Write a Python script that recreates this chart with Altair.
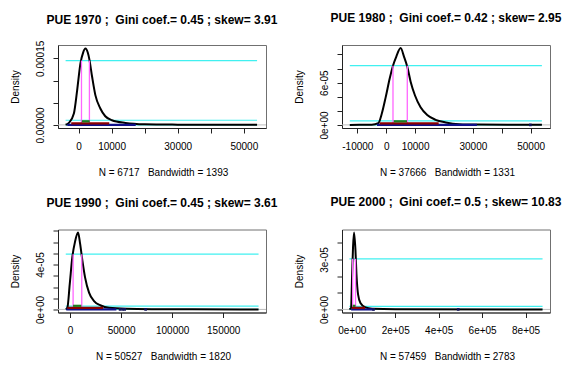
import altair as alt
import pandas as pd

FONT = "Liberation Sans"

# ---------------- data ----------------
years = ["1970", "1980", "1990", "2000"]
gini = ["0.45", "0.42", "0.45", "0.5"]
skew = ["3.91", "2.95", "3.61", "10.83"]
n_obs = ["6717", "37666", "50527", "57459"]
bandwidth = ["1393", "1331", "1820", "2783"]

# density curves (income, density)
curve_x_1970 = [-3900, -2900, -1400, -400, 600, 1400, 2100, 2800, 3300, 4100, 5100, 6600, 8100, 10100, 14200, 20000, 30000, 40000, 54000]
curve_y_1970 = [0.2e-6, 4.5e-6, 2.57e-5, 7.86e-5, 1.39e-4, 1.63e-4, 1.72e-4, 1.63e-4, 1.47e-4, 1.09e-4, 6.7e-5, 3.7e-5, 1.95e-5, 1.05e-5, 4.5e-6, 1.5e-6, 0.6e-6, 0.3e-6, 0.1e-6]

curve_x_1980 = [-12600, -5000, -2730, -1560, -170, 1210, 2350, 3500, 5000, 6160, 7300, 8480, 9970, 11900, 14200, 17100, 20600, 25200, 32000, 42000, 53900]
curve_y_1980 = [0.0, 0.2e-6, 2.4e-6, 1.54e-5, 3.94e-5, 6.58e-5, 8.4e-5, 9.7e-5, 1.09e-4, 9.7e-5, 8.26e-5, 6.1e-5, 4.17e-5, 2.5e-5, 1.4e-5, 7.2e-6, 3.5e-6, 1.0e-6, 0.4e-6, 0.2e-6, 0.1e-6]

curve_x_1990 = [-4200, -2650, -300, 2250, 4900, 7840, 9800, 12060, 14700, 18600, 23500, 30100, 38200, 55000, 80000, 120000, 184600]
curve_y_1990 = [0.1e-6, 1.4e-6, 2.25e-5, 4.68e-5, 6.05e-5, 6.86e-5, 5.89e-5, 4.38e-5, 2.86e-5, 1.5e-5, 7.5e-6, 3.5e-6, 1.4e-6, 0.5e-6, 0.2e-6, 0.1e-6, 0.0]

curve_x_2000 = [-10600, -3200, 1400, 6000, 10600, 17100, 21700, 29100, 40100, 63200, 93700, 200000, 878000]
curve_y_2000 = [0.0, 0.8e-6, 1.92e-5, 3.76e-5, 4.62e-5, 3.56e-5, 2.12e-5, 9.0e-6, 3.9e-6, 1.2e-6, 0.4e-6, 0.1e-6, 0.0]

# horizontal cyan reference levels and their x extent
cyan_levels = [[1.45e-4, 1.05e-5, 0.0], [8.4e-5, 5.8e-6, 0.0], [4.93e-5, 2.9e-6, 0.0], [3.04e-5, 1.8e-6, 0.0]]
cyan_from = [-3900, -12600, -4200, -10600]
cyan_to = [54000, 53900, 184600, 878000]

# magenta verticals (x positions, top = upper cyan level)
magenta_x = [[900, 3300], [2350, 7300], [3000, 11470], [4300, 17500]]

# horizontal range bars
green_range = [[1000, 3400], [2600, 7200], [2940, 11080], [4300, 17500]]
darkred_range = [[-2200, 9300], [-2250, 18170], [-2650, 32350], [0, 61000]]
navy_range = [[-3400, 17300], [-3180, 31400], [-3630, 45400], [-3000, 105000]]

# isolated points on the baseline
dots_x = [[], [49900], [49000, 51500, 53500, 74000], [100000, 490000]]

# axes
x_domains = [[-6200, 56700], [-15300, 56700], [-11800, 191900], [-44800, 912300]]
y_domains = [[-7e-6, 1.80e-4], [-4.4e-6, 1.134e-4], [-2.75e-6, 7.13e-5], [-1.85e-6, 4.8e-5]]
x_ticks = [[0, 10000, 20000, 30000, 40000, 50000],
           [-10000, 0, 10000, 20000, 30000, 40000, 50000],
           [0, 50000, 100000, 150000],
           [0, 200000, 400000, 600000, 800000]]
x_tick_labels = [["0", "10000", "", "30000", "", "50000"],
                 ["-10000", "0", "10000", "", "30000", "", "50000"],
                 ["0", "50000", "100000", "150000"],
                 ["0e+00", "2e+05", "4e+05", "6e+05", "8e+05"]]
y_ticks = [[0, 5e-5, 1e-4, 1.5e-4],
           [0, 2e-5, 4e-5, 6e-5, 8e-5, 1e-4],
           [0, 1e-5, 2e-5, 3e-5, 4e-5, 5e-5, 6e-5, 7e-5],
           [0, 1e-5, 2e-5, 3e-5, 4e-5]]
y_tick_labels = [["0.00000", "", "", "0.00015"],
                 ["0e+00", "", "", "6e-05", "", ""],
                 ["0e+00", "", "", "", "4e-05", "", "", ""],
                 ["0e+00", "", "", "3e-05", ""]]

curves = [(curve_x_1970, curve_y_1970), (curve_x_1980, curve_y_1980),
          (curve_x_1990, curve_y_1990), (curve_x_2000, curve_y_2000)]

PW = 208
PH = 83


def label_expr(vals, labels):
    span = max(vals) - min(vals)
    tol = span * 1e-6
    expr = "''"
    for v, l in reversed(list(zip(vals, labels))):
        expr = f"(abs(datum.value - ({v!r})) < {tol!r}) ? '{l}' : {expr}"
    return expr


def panel(i):
    h = PH
    xs = alt.Scale(domain=x_domains[i], nice=False, zero=False)
    ys = alt.Scale(domain=y_domains[i], nice=False, zero=False)
    sub = f"N = {n_obs[i]} \u00a0 Bandwidth = {bandwidth[i]}"
    xaxis = alt.Axis(values=x_ticks[i], labelExpr=label_expr(x_ticks[i], x_tick_labels[i]),
                     title=sub, titleX=PW / 2 + 1, titleY=47, titleBaseline="alphabetic",
                     titleAlign="center", labelAngle=0, labelBaseline="top", labelAlign="center",
                     labelPadding=8, labelFlush=False, labelOverlap=False, tickSize=5, grid=False)
    yaxis = alt.Axis(values=y_ticks[i], labelExpr=label_expr(y_ticks[i], y_tick_labels[i]),
                     title="Density", titleAngle=270, titleX=-39.5, titleY=h / 2,
                     titleBaseline="alphabetic", titleAlign="center",
                     labelAngle=270, labelAlign="center", labelBaseline="alphabetic",
                     labelPadding=10, labelFlush=False, labelOverlap=False, tickSize=5, grid=False)

    def X(f):
        return alt.X(f, type="quantitative", scale=xs, axis=xaxis)

    def Y(f):
        return alt.Y(f, type="quantitative", scale=ys, axis=yaxis)

    zero_df = pd.DataFrame({"y": [0.0]})
    zero = alt.Chart(zero_df).mark_rule(color="#bebebe", strokeWidth=1).encode(y=Y("y"))

    cyan_df = pd.DataFrame({"lvl": cyan_levels[i], "x1": [cyan_from[i]] * 3, "x2": [cyan_to[i]] * 3})
    cyan = alt.Chart(cyan_df).mark_rule(color="#40f0f0", strokeWidth=1.2).encode(
        x=X("x1"), x2="x2", y=Y("lvl"))

    cx, cy = curves[i]
    curve_df = pd.DataFrame({"x": cx, "y": cy})
    curve = alt.Chart(curve_df).mark_line(color="black", strokeWidth=2, interpolate="monotone").encode(
        x=X("x"), y=Y("y"))

    mag_df = pd.DataFrame({"x": magenta_x[i], "top": [cyan_levels[i][0]] * 2})
    mag = alt.Chart(mag_df).mark_rule(color="#ff66ff", strokeWidth=1.3).encode(
        x=X("x"), y=Y("top"), y2=alt.datum(0))

    layers = [zero, cyan, curve, mag]
    for rng, col, off in [(navy_range[i], "#10108a", 0), (darkred_range[i], "#8b0000", -1.6),
                          (green_range[i], "#1e7b1e", -3.6)]:
        df = pd.DataFrame({"x1": [rng[0]], "x2": [rng[1]], "y": [0.0]})
        layers.append(alt.Chart(df).mark_rule(color=col, strokeWidth=2.2, yOffset=off).encode(
            x=X("x1"), x2="x2", y=Y("y")))

    if dots_x[i]:
        dots_df = pd.DataFrame({"x": dots_x[i], "y": [0.0] * len(dots_x[i])})
        layers.append(alt.Chart(dots_df).mark_square(color="#10105a", size=7, opacity=1).encode(
            x=X("x"), y=Y("y")))

    title = f"PUE {years[i]} ;\u00a0 Gini coef.= {gini[i]} ; skew= {skew[i]}"
    return alt.layer(*layers).properties(
        width=PW, height=h,
        view=alt.ViewBackground(stroke="#707070", strokeWidth=1, fill="white"),
        title=alt.TitleParams(title, anchor="middle", baseline="alphabetic",
                              offset=(4 if i == 0 else 10)))


chart = alt.concat(*[panel(i) for i in range(4)], columns=2,
                   spacing={"row": 101.5, "column": 76}, bounds="flush").properties(
    padding={"left": 10, "top": 11, "right": 0, "bottom": 0},
    background="white",
).configure_view(stroke="#707070", strokeWidth=1).configure_axis(
    labelFont=FONT, labelFontSize=10, labelColor="black",
    titleFont=FONT, titleFontSize=10, titleFontWeight="normal", titleColor="black",
    domainColor="#222222", tickColor="#222222", domainWidth=1, tickWidth=1,
).configure_title(font=FONT, fontSize=12, fontWeight="bold", color="black")

chart.save("out.html", embed_options={"renderer": "svg", "actions": False})
